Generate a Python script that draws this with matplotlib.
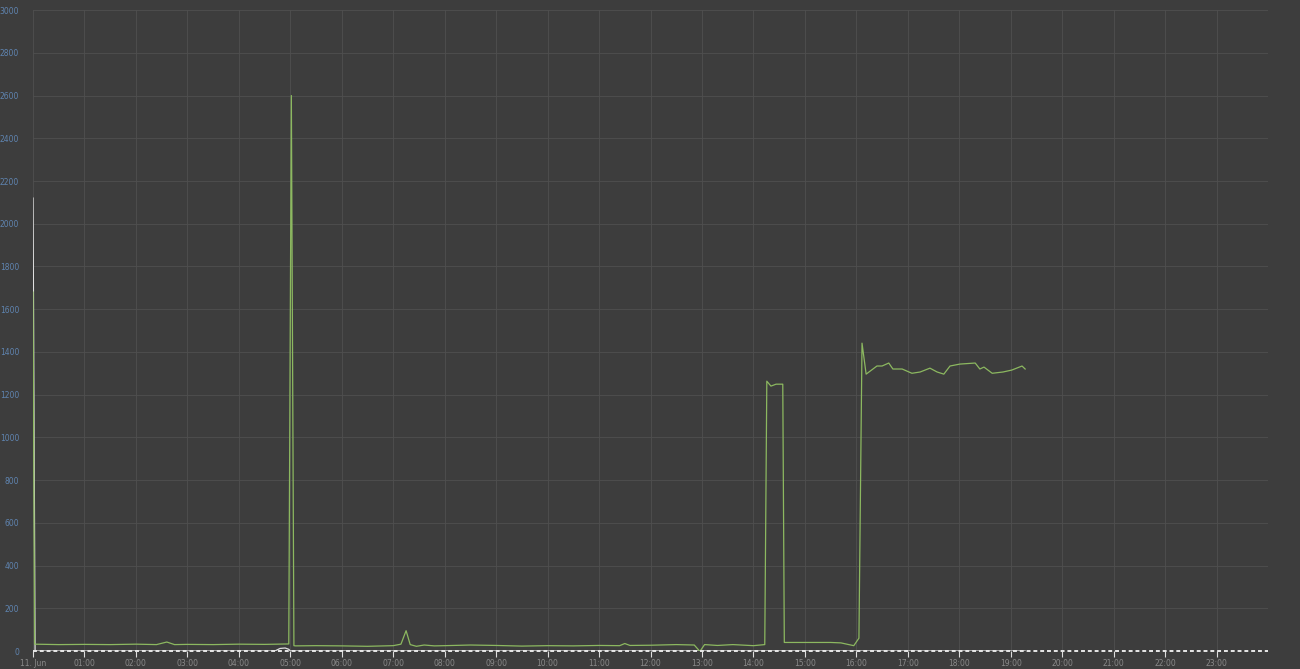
import matplotlib
matplotlib.use("Agg")
from matplotlib import pyplot as plt

# hours since midnight, 11 Jun
green_t = [0.0, 0.03, 0.5, 1.0, 1.5, 2.0, 2.4, 2.6, 2.75, 3.0, 3.5, 4.0, 4.5, 4.97,
           5.02, 5.07, 5.1, 5.5, 6.0, 6.5, 7.0, 7.15, 7.25, 7.33, 7.45, 7.6, 7.8,
           8.0, 8.5, 9.0, 9.5, 10.0, 10.5, 11.0, 11.4, 11.5, 11.6, 12.0, 12.5, 12.85,
           12.96, 13.05, 13.3, 13.6, 14.0, 14.22, 14.26, 14.34, 14.44, 14.57, 14.6,
           15.0, 15.5, 15.7, 15.95, 16.05, 16.11, 16.19, 16.4, 16.5, 16.63, 16.71,
           16.89, 17.08, 17.24, 17.43, 17.57, 17.7, 17.82, 18.01, 18.31, 18.4, 18.48,
           18.64, 18.85, 19.02, 19.22, 19.28]
green_v = [1680, 32, 30, 31, 30, 32, 30, 42, 30, 31, 30, 32, 31, 33,
           2600, 25, 24, 25, 24, 22, 25, 32, 95, 30, 22, 28, 24,
           25, 28, 26, 23, 25, 24, 26, 25, 35, 26, 27, 30, 28,
           -2, 30, 26, 30, 25, 30, 1263, 1240, 1249, 1249, 40,
           40, 40, 38, 25, 60, 1441, 1296, 1334, 1334, 1348, 1320,
           1320, 1300, 1306, 1324, 1306, 1296, 1334, 1343, 1348, 1320, 1329,
           1300, 1306, 1315, 1334, 1320]

white_t = [0.0, 0.04, 4.7, 4.8, 4.9, 4.97, 5.0, 19.28]
white_v = [2120, 0, 0, 12, 14, 8, 0, 0]

hour_labels = ["11. Jun"] + ["%02d:00" % h for h in range(1, 24)]
y_ticks = list(range(0, 3001, 200))

bg = "#3d3d3d"
fig = plt.figure(figsize=(13, 6.69), dpi=100)
fig.patch.set_facecolor(bg)
ax = fig.add_axes([0.0254, 0.0269, 0.95, 0.958])
ax.set_facecolor(bg)

ax.set_xlim(0, 24)
ax.set_ylim(0, 3000)
ax.set_xticks(range(24))
ax.set_xticklabels(hour_labels)
ax.set_yticks(y_ticks)
ax.grid(True, color="#4f4f4f", linewidth=0.6)
for s in ax.spines.values():
    s.set_visible(False)

ax.tick_params(axis="x", colors="#dddddd", labelcolor="#8a8a8a", labelsize=5.5,
               length=4, width=0.8, pad=2, direction="out")
ax.tick_params(axis="y", colors=bg, labelcolor="#5f84b0", labelsize=5.5,
               length=0, pad=10)

ax.plot(white_t, white_v, color="#e0e0e0", linewidth=0.9, zorder=3)
ax.plot(green_t, green_v, color="#8cb860", linewidth=0.9, zorder=4)
ax.plot([0, 24], [0, 0], color="#e8e8e8", linewidth=1.4, linestyle=(0, (2, 1.5)),
        zorder=5, clip_on=False)

fig.savefig("out.png", dpi=100, facecolor=bg)
